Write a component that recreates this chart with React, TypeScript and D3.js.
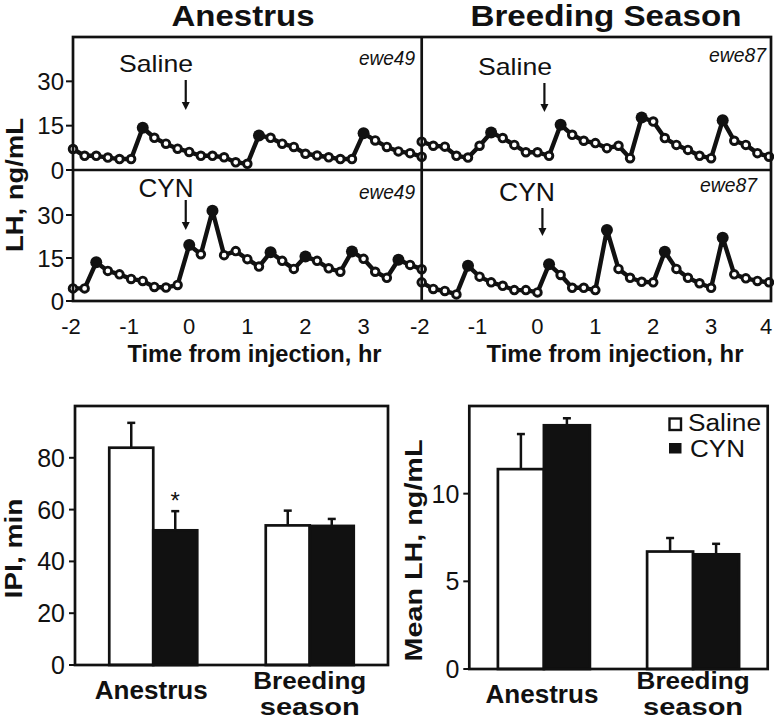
import React from "react";
import * as d3 from "d3";

// ---------- data ----------
const TIME = [-2, -1.8, -1.6, -1.4, -1.2, -1, -0.8, -0.6, -0.4, -0.2, 0, 0.2, 0.4, 0.6, 0.8, 1, 1.2, 1.4, 1.6, 1.8, 2, 2.2, 2.4, 2.6, 2.8, 3, 3.2, 3.4, 3.6, 3.8, 4];
const X_TICKS_LEFT = [-2, -1, 0, 1, 2, 3];
const X_TICKS_RIGHT = [-2, -1, 0, 1, 2, 3, 4];
const LH_TICKS = [0, 15, 30];

const SALINE_EWE49 = [7.1, 4.8, 4.8, 4.2, 3.7, 3.7, 14.3, 10.9, 8.9, 7.2, 6.1, 4.8, 4.8, 4.3, 2.6, 2.1, 11.7, 10.9, 8.9, 7.8, 5.5, 4.9, 4.3, 3.7, 3.7, 12.4, 10.0, 7.8, 6.3, 5.7, 4.5];
const SALINE_EWE49_PEAKS = [6, 16, 25];
const SALINE_EWE87 = [9.6, 8.2, 7.9, 4.8, 4.2, 8.2, 12.7, 10.8, 8.5, 6.0, 6.0, 4.8, 15.3, 11.9, 9.9, 9.1, 7.4, 8.2, 4.0, 17.8, 16.4, 10.8, 8.5, 6.8, 4.8, 4.0, 16.8, 9.9, 8.5, 5.7, 4.5];
const SALINE_EWE87_PEAKS = [6, 12, 19, 26];
const CYN_EWE49 = [4.4, 4.4, 13.5, 10.5, 9.3, 7.7, 7.0, 4.9, 4.7, 5.6, 19.5, 16.3, 31.5, 16.0, 17.4, 14.6, 12.0, 17.0, 14.0, 11.2, 15.5, 14.0, 11.4, 10.2, 17.3, 14.7, 10.2, 8.1, 14.4, 12.6, 11.1];
const CYN_EWE49_PEAKS = [2, 10, 12, 17, 20, 24, 28];
const CYN_EWE87 = [6.5, 4.2, 3.5, 2.3, 12.3, 8.5, 6.5, 5.3, 3.8, 3.8, 3.0, 12.8, 9.1, 4.6, 4.6, 3.8, 24.8, 11.2, 8.1, 6.7, 6.5, 17.2, 11.2, 8.1, 6.2, 4.6, 22.1, 9.3, 7.9, 7.0, 6.5];
const CYN_EWE87_PEAKS = [4, 11, 16, 21, 26];
// injection arrow times (hr) as drawn
const ARROW_T_LEFT = -0.06;
const ARROW_T_RIGHT = 0.12;

const GROUPS = ["Anestrus", "Breeding season"];
const TREATMENTS = ["Saline", "CYN"];
const IPI_SALINE = [83.9, 53.9];
const IPI_SALINE_SEM = [9.6, 5.7];
const IPI_CYN = [52.0, 53.7];
const IPI_CYN_SEM = [7.4, 2.7];
const IPI_TICKS = [0, 20, 40, 60, 80];
const MEANLH_SALINE = [11.4, 6.7];
const MEANLH_SALINE_SEM = [2.0, 0.77];
const MEANLH_CYN = [13.9, 6.54];
const MEANLH_CYN_SEM = [0.4, 0.6];
const MEANLH_TICKS = [0, 5, 10];

// ---------- styling ----------
const FONT = "'Liberation Sans', Arial, Helvetica, sans-serif";
const INK = "#111";

type TP = {
  x: number; y: number; size: number; bold?: boolean; italic?: boolean;
  anchor?: "start" | "middle" | "end"; len?: number; rotate?: boolean; children: React.ReactNode;
};
function Txt({ x, y, size, bold, italic, anchor = "start", len, rotate, children }: TP) {
  return (
    <text
      x={x}
      y={y}
      fontFamily={FONT}
      fontSize={size}
      fontWeight={bold ? "bold" : "normal"}
      fontStyle={italic ? "italic" : "normal"}
      textAnchor={anchor}
      fill={INK}
      textLength={len}
      lengthAdjust={len ? "spacingAndGlyphs" : undefined}
      transform={rotate ? `rotate(-90 ${x} ${y})` : undefined}
    >
      {children}
    </text>
  );
}

function Arrow({ x, y1, y2 }: { x: number; y1: number; y2: number }) {
  const head = 8;
  return (
    <g>
      <line x1={x} x2={x} y1={y1} y2={y2 - head + 1} stroke={INK} strokeWidth={2.2} />
      <path d={`M${x - 4},${y2 - head} L${x + 4},${y2 - head} L${x},${y2} Z`} fill={INK} />
    </g>
  );
}

function Pulse({ values, peaks, x, y }: { values: number[]; peaks: number[]; x: d3.ScaleLinear<number, number>; y: d3.ScaleLinear<number, number> }) {
  const line = d3.line<number>().x((_, i) => x(TIME[i])).y((d) => y(d));
  return (
    <g>
      <path d={line(values) || ""} fill="none" stroke={INK} strokeWidth={4.4} strokeLinejoin="round" />
      {values.map((v, i) =>
        peaks.includes(i) ? (
          <circle key={i} cx={x(TIME[i])} cy={y(v)} r={6} fill={INK} />
        ) : (
          <circle key={i} cx={x(TIME[i])} cy={y(v)} r={3.8} fill="#fff" stroke={INK} strokeWidth={2.9} />
        )
      )}
    </g>
  );
}

function BarPanel({
  left, right, top, bottom, max, ticks, saline, salineSem, cyn, cynSem, barW, label, labelLen, labelX, legend, star,
}: {
  left: number; right: number; top: number; bottom: number; max: number; ticks: number[];
  saline: number[]; salineSem: number[]; cyn: number[]; cynSem: number[]; barW: number;
  label: string; labelLen: number; labelX: number; legend?: boolean; star?: boolean;
}) {
  const y = d3.scaleLinear().domain([0, max]).range([bottom, top]);
  const gx = d3.scaleBand<string>().domain(GROUPS).range([left, right]).padding(0);
  const step = gx.bandwidth();
  const sx = d3.scaleBand<string>().domain(TREATMENTS).range([0, step])
    .paddingInner(0).paddingOuter((step - 2 * barW) / 2 / barW);
  const series = [
    { name: "Saline", vals: saline, sem: salineSem, fill: "#fff" },
    { name: "CYN", vals: cyn, sem: cynSem, fill: INK },
  ];
  const mid = (top + bottom) / 2;
  return (
    <g>
      {series.map((s) =>
        GROUPS.map((g, gi) => {
          const x0 = (gx(g) || 0) + (sx(s.name) || 0);
          const w = sx.bandwidth();
          const cx = x0 + w / 2;
          const yt = y(s.vals[gi]);
          const ye = y(s.vals[gi] + s.sem[gi]);
          return (
            <g key={s.name + g}>
              <line x1={cx} x2={cx} y1={yt} y2={ye} stroke={INK} strokeWidth={2.5} />
              <line x1={cx - 4} x2={cx + 4} y1={ye} y2={ye} stroke={INK} strokeWidth={2.5} />
              <rect x={x0} y={yt} width={w} height={bottom - yt} fill={s.fill} stroke={INK} strokeWidth={2.7} />
            </g>
          );
        })
      )}
      {star && (
        <Txt x={(gx(GROUPS[0]) || 0) + (sx("CYN") || 0) + sx.bandwidth() / 2} y={509} size={24} anchor="middle">*</Txt>
      )}
      <rect x={left} y={top} width={right - left} height={bottom - top} fill="none" stroke={INK} strokeWidth={2.7} />
      {ticks.map((t) => (
        <g key={t}>
          <line x1={left - 6} x2={left} y1={y(t)} y2={y(t)} stroke={INK} strokeWidth={2} />
          <Txt x={left - 10} y={y(t) + 9} size={25} anchor="end">{t}</Txt>
        </g>
      ))}
      <Txt x={labelX} y={mid + 13} size={24} bold rotate anchor="middle" len={labelLen}>{label}</Txt>
      <Txt x={(gx(GROUPS[0]) || 0) + step / 2 - 2} y={bottom + 34} size={26} bold anchor="middle" len={113}>Anestrus</Txt>
      <Txt x={(gx(GROUPS[1]) || 0) + step / 2} y={689} size={23} bold anchor="middle" len={113}>Breeding</Txt>
      <Txt x={(gx(GROUPS[1]) || 0) + step / 2} y={715} size={23} bold anchor="middle" len={100}>season</Txt>
      {legend && (
        <g>
          <rect x={669.5} y={418.5} width={11.5} height={11.5} fill="#fff" stroke={INK} strokeWidth={2.4} />
          <Txt x={688} y={431} size={23} len={73}>Saline</Txt>
          <rect x={669} y={443} width={12.5} height={10.5} fill={INK} />
          <Txt x={690} y={457} size={23} len={55}>CYN</Txt>
        </g>
      )}
    </g>
  );
}

export default function App() {
  const W = 774, H = 722;
  // top panels geometry
  const pL = 73, pM = 421.7, pR = 771, rowTop = 37, rowMid = 170, rowBot = 301;
  const xL = d3.scaleLinear().domain([-2, 4]).range([pL, pM]);
  const xR = d3.scaleLinear().domain([-2, 4]).range([pM, 769]);
  const yTop = d3.scaleLinear().domain([0, 45]).range([rowMid, rowTop]);
  const yBot = d3.scaleLinear().domain([0, 45]).range([rowBot, 172]);

  return (
    <div style={{ position: "absolute", left: 0, top: 0, width: W, height: H, background: "#fff" }}>
      <svg width={W} height={H} viewBox={`0 0 ${W} ${H}`}>
        <rect width={W} height={H} fill="#fff" />
        {/* titles */}
        <Txt x={243} y={26} size={30} bold anchor="middle" len={143}>Anestrus</Txt>
        <Txt x={606} y={26} size={30} bold anchor="middle" len={271}>Breeding Season</Txt>

        {/* pulse traces */}
        <Pulse values={SALINE_EWE49} peaks={SALINE_EWE49_PEAKS} x={xL} y={yTop} />
        <Pulse values={SALINE_EWE87} peaks={SALINE_EWE87_PEAKS} x={xR} y={yTop} />
        <Pulse values={CYN_EWE49} peaks={CYN_EWE49_PEAKS} x={xL} y={yBot} />
        <Pulse values={CYN_EWE87} peaks={CYN_EWE87_PEAKS} x={xR} y={yBot} />

        {/* frames */}
        <rect x={pL} y={rowTop} width={pR - pL} height={rowBot - rowTop} fill="none" stroke={INK} strokeWidth={2.7} />
        <line x1={pL} x2={pR} y1={rowMid} y2={rowMid} stroke={INK} strokeWidth={2.7} />
        <line x1={pM} x2={pM} y1={rowTop} y2={rowBot} stroke={INK} strokeWidth={2.7} />

        {/* y ticks */}
        {[yTop, yBot].map((ys, k) =>
          LH_TICKS.map((t) => (
            <g key={k + "-" + t}>
              <line x1={pL - 7} x2={pL} y1={ys(t)} y2={ys(t)} stroke={INK} strokeWidth={2} />
              <Txt x={pL - 9} y={ys(t) + 8.5} size={24} anchor="end">{t}</Txt>
            </g>
          ))
        )}
        <Txt x={23} y={185} size={23} bold rotate anchor="middle" len={134}>LH, ng/mL</Txt>

        {/* x ticks */}
        {X_TICKS_LEFT.map((t) => (
          <Txt key={"l" + t} x={xL(t) - (t < 0 ? 2 : 0)} y={334} size={22} anchor="middle">{t}</Txt>
        ))}
        {X_TICKS_RIGHT.map((t) => (
          <Txt key={"r" + t} x={xR(t) - (t < 0 ? 2 : 0) + (t === 4 ? -3 : 0)} y={334} size={22} anchor="middle">{t}</Txt>
        ))}
        <Txt x={254.5} y={362} size={23} bold anchor="middle" len={254}>Time from injection, hr</Txt>
        <Txt x={615} y={362} size={23} bold anchor="middle" len={257}>Time from injection, hr</Txt>

        {/* annotations */}
        <Txt x={156} y={72} size={24} anchor="middle" len={74}>Saline</Txt>
        <Arrow x={xL(ARROW_T_LEFT)} y1={80} y2={110} />
        <Txt x={515} y={75} size={24} anchor="middle" len={74}>Saline</Txt>
        <Arrow x={xR(ARROW_T_RIGHT)} y1={83} y2={112} />
        <Txt x={166} y={197} size={25} anchor="middle" len={55}>CYN</Txt>
        <Arrow x={xL(ARROW_T_LEFT)} y1={200} y2={230} />
        <Txt x={527} y={201} size={25} anchor="middle" len={56}>CYN</Txt>
        <Arrow x={xR(ARROW_T_RIGHT) - 2} y1={208} y2={236} />

        <Txt x={415} y={65} size={20} italic anchor="end" len={56}>ewe49</Txt>
        <Txt x={415} y={199} size={20} italic anchor="end" len={56}>ewe49</Txt>
        <Txt x={766} y={62} size={20} italic anchor="end" len={57}>ewe87</Txt>
        <Txt x={757} y={192} size={20} italic anchor="end" len={57}>ewe87</Txt>

        {/* bottom bar charts */}
        <BarPanel
          left={75} right={388} top={406} bottom={665} max={100} ticks={IPI_TICKS}
          saline={IPI_SALINE} salineSem={IPI_SALINE_SEM} cyn={IPI_CYN} cynSem={IPI_CYN_SEM}
          barW={44} label="IPI, min" labelLen={100} labelX={22} star
        />
        <BarPanel
          left={469.3} right={767.7} top={406} bottom={669} max={15} ticks={MEANLH_TICKS}
          saline={MEANLH_SALINE} salineSem={MEANLH_SALINE_SEM} cyn={MEANLH_CYN} cynSem={MEANLH_CYN_SEM}
          barW={46} label="Mean LH, ng/mL" labelLen={222} labelX={422} legend
        />
      </svg>
    </div>
  );
}
